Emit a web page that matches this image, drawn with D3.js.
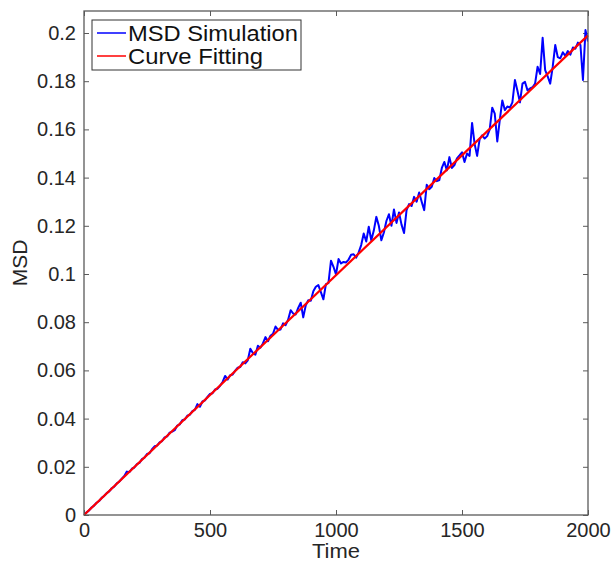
<!DOCTYPE html>
<html><head><meta charset="utf-8">
<script src="https://cdn.jsdelivr.net/npm/d3@7"></script>
<style>body{margin:0;background:#fff}svg{display:block;font-family:"Liberation Sans",Arial,Helvetica,sans-serif}</style>
</head><body>
<script>
const timeStep = 10;
const msdSim = [
0, 0.0011, 0.0019, 0.0031, 0.0039, 0.0051, 0.0058, 0.0071, 0.0079, 0.0091,
0.0098, 0.0111, 0.0118, 0.0131, 0.0138, 0.0151, 0.0162, 0.0180, 0.0178, 0.0192,
0.0197, 0.0211, 0.0216, 0.0232, 0.0238, 0.0253, 0.0256, 0.0273, 0.0285, 0.0288,
0.0301, 0.0307, 0.0322, 0.0326, 0.0342, 0.0346, 0.0352, 0.0371, 0.0376, 0.0393,
0.0396, 0.0412, 0.0416, 0.0431, 0.0436, 0.0460, 0.0449, 0.0471, 0.0476, 0.0490,
0.0502, 0.0505, 0.0521, 0.0524, 0.0536, 0.0552, 0.0577, 0.0562, 0.0580, 0.0583,
0.0599, 0.0611, 0.0614, 0.0634, 0.0629, 0.0642, 0.0690, 0.0672, 0.0665, 0.0702,
0.0694, 0.0712, 0.0738, 0.0721, 0.0744, 0.0752, 0.0782, 0.0768, 0.0770, 0.0795,
0.0788, 0.0810, 0.0850, 0.0836, 0.0832, 0.0859, 0.0881, 0.0820, 0.0870, 0.0891,
0.0889, 0.0928, 0.0947, 0.0954, 0.0925, 0.0895, 0.0958, 0.0962, 0.1055, 0.1030,
0.0998, 0.1062, 0.1044, 0.1050, 0.1048, 0.1060, 0.1080, 0.1082, 0.1068, 0.1090,
0.1120, 0.1168, 0.1135, 0.1196, 0.1140, 0.1180, 0.1237, 0.1200, 0.1140, 0.1172,
0.1220, 0.1248, 0.1200, 0.1268, 0.1212, 0.1255, 0.1205, 0.1170, 0.1265, 0.1290,
0.1282, 0.1320, 0.1300, 0.1338, 0.1300, 0.1265, 0.1370, 0.1352, 0.1362, 0.1398,
0.1385, 0.1390, 0.1440, 0.1465, 0.1430, 0.1485, 0.1440, 0.1452, 0.1480, 0.1492,
0.1505, 0.1465, 0.1500, 0.1490, 0.1627, 0.1540, 0.1490, 0.1560, 0.1575, 0.1562,
0.1572, 0.1600, 0.1690, 0.1665, 0.1550, 0.1640, 0.1720, 0.1680, 0.1695, 0.1690,
0.1712, 0.1805, 0.1760, 0.1712, 0.1790, 0.1797, 0.1762, 0.1770, 0.1775, 0.1790,
0.1860, 0.1830, 0.1980, 0.1846, 0.1820, 0.1790, 0.1860, 0.1950, 0.1900, 0.1895,
0.1920, 0.1905, 0.1925, 0.1910, 0.1940, 0.1935, 0.1960, 0.1950, 0.1805, 0.2012, 0.1965
];
const fitTime = [0, 2000];
const fitMsd = [0, 0.199];
const xTicks = [0, 500, 1000, 1500, 2000];
const yTicks = [0, 0.02, 0.04, 0.06, 0.08, 0.1, 0.12, 0.14, 0.16, 0.18, 0.2];
const legendLabels = ["MSD Simulation", "Curve Fitting"];
const colors = ["#0000ff", "#ff0000"];

const W = 613, H = 562;
const L = 84, R = 588, T = 11, B = 515;
const svg = d3.select("body").append("svg").attr("width", W).attr("height", H);
const x = d3.scaleLinear().domain([0, 2000]).range([L, R]);
const y = d3.scaleLinear().domain([0, 0.2]).range([B, 33]);
y.domain([0, y.invert(T)]);
y.range([B, T]);

const axisColor = "#5a5a5a", textColor = "#262626";
const gx = svg.append("g").attr("transform", `translate(0,${B})`)
  .call(d3.axisBottom(x).tickValues(xTicks).tickSizeInner(-5).tickSizeOuter(0).tickPadding(8).tickFormat(d3.format("d")));
const gy = svg.append("g").attr("transform", `translate(${L},0)`)
  .call(d3.axisLeft(y).tickValues(yTicks).tickSizeInner(-5).tickSizeOuter(0).tickPadding(8).tickFormat(d => d === 0 ? "0" : String(+d.toFixed(2))));
const gxt = svg.append("g").attr("transform", `translate(0,${T})`)
  .call(d3.axisTop(x).tickValues(xTicks).tickSizeInner(-5).tickSizeOuter(0).tickFormat(""));
const gyr = svg.append("g").attr("transform", `translate(${R},0)`)
  .call(d3.axisRight(y).tickValues(yTicks).tickSizeInner(-5).tickSizeOuter(0).tickFormat(""));
[gx, gy, gxt, gyr].forEach(g => {
  g.selectAll("path").remove();
  g.selectAll("line").attr("stroke", axisColor).attr("stroke-width", 1);
  g.selectAll("text").attr("fill", textColor).style("font-size", "20px").style("font-family", '"Liberation Sans",Arial,sans-serif');
});

svg.append("clipPath").attr("id", "c").append("rect").attr("x", L).attr("y", T - 2).attr("width", R - L).attr("height", B - T + 2);
const line = d3.line().x(d => x(d[0])).y(d => y(d[1]));
const simData = msdSim.map((v, i) => [i * timeStep, v]);
svg.append("path").datum(simData).attr("d", line).attr("fill", "none").attr("stroke", colors[0]).attr("stroke-width", 2).attr("stroke-linejoin", "round").attr("clip-path", "url(#c)");
svg.append("path").datum(fitTime.map((t, i) => [t, fitMsd[i]])).attr("d", line).attr("fill", "none").attr("stroke", colors[1]).attr("stroke-width", 2.2);

svg.append("rect").attr("x", L).attr("y", T).attr("width", R - L).attr("height", B - T).attr("fill", "none").attr("stroke", axisColor).attr("stroke-width", 1.3);

svg.append("text").attr("x", (L + R) / 2).attr("y", 558).attr("text-anchor", "middle").attr("fill", textColor).style("font-size", "21px").attr("textLength", 48).attr("lengthAdjust", "spacingAndGlyphs").text("Time");
svg.append("text").attr("transform", `translate(27,${(T + B) / 2}) rotate(-90)`).attr("text-anchor", "middle").attr("fill", textColor).style("font-size", "21px").text("MSD");

const lg = svg.append("g");
lg.append("rect").attr("x", 92).attr("y", 20).attr("width", 209).attr("height", 50).attr("fill", "#fff").attr("stroke", "#333").attr("stroke-width", 1);
const legendLens = [170, 135];
legendLabels.forEach((lab, i) => {
  const yy = 33 + i * 23;
  lg.append("line").attr("x1", 97).attr("x2", 126).attr("y1", yy).attr("y2", yy).attr("stroke", colors[i]).attr("stroke-width", 1.5);
  lg.append("text").attr("x", 128).attr("y", yy + 8).attr("fill", "#111").style("font-size", "22px")
    .attr("textLength", legendLens[i]).attr("lengthAdjust", "spacingAndGlyphs").text(lab);
});
</script>
</body></html>
